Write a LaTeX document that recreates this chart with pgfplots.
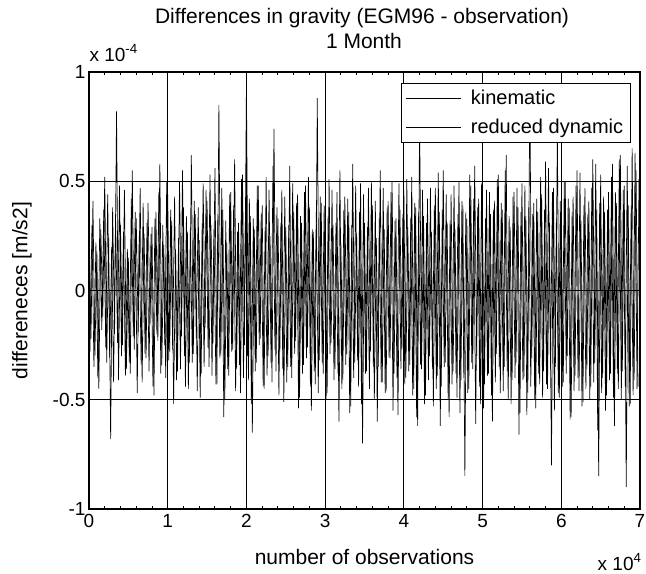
\documentclass[border=0pt]{standalone}
\usepackage{fontspec}
\setmainfont{Liberation Sans}
\usepackage{pgfplots}
\pgfplotsset{compat=1.18}
\newcommand{\ft}{\fontsize{19bp}{22bp}\selectfont}
\newcommand{\fl}{\fontsize{20bp}{23bp}\selectfont}
\newcommand{\fb}{\fontsize{21bp}{24bp}\selectfont}
\begin{document}
\begin{tikzpicture}
\begin{axis}[
 scale only axis, width=551bp, height=437bp,
 xmin=0, xmax=70000, ymin=-1, ymax=1,
 xtick={0,10000,20000,30000,40000,50000,60000,70000},
 xticklabels={0,1,2,3,4,5,6,7},
 ytick={-1,-0.5,0,0.5,1}, yticklabels={-1,-0.5,0,0.5,1},
 scaled x ticks=false, scaled y ticks=false,
 minor x tick num=4,
 tick align=inside,
 major tick length=5bp, minor tick length=3bp,
 grid=major, major grid style={black, line width=1.1bp},
 axis line style={black, line width=1.4bp},
 tick style={black, line width=0.9bp},
 /pgf/number format/assume math mode=true,
 tick label style={font=\ft},
 xticklabel style={yshift=-2bp},
 legend style={at={(0.983,0.975)}, anchor=north east, draw=black, line width=1bp, fill=white, font=\fl, inner xsep=5bp, inner ysep=5bp, row sep=9bp, /tikz/every odd column/.append style={column sep=7bp}},
 legend cell align=left,
 legend image code/.code={\draw[black,line width=0.7bp] (0bp,0bp) -- (55bp,0bp);},
]
\addplot[black, line width=0.65bp] coordinates {
(0,.35)(250,-.22)(500,.41)(750,-.30)(1000,.18)(1250,-.45)(1500,.28)(1750,-.12)(2000,.52)(2250,-.33)
(2500,.24)(2750,-.68)(3000,.38)(3250,-.20)(3500,.82)(3750,-.41)(4000,.30)(4250,-.25)(4500,.46)(4750,-.36)
(5000,.15)(5250,-.38)(5500,.55)(5750,-.27)(6000,.33)(6250,-.19)(6500,.47)(6750,-.42)(7000,.26)(7250,-.31)
(7500,.40)(7750,-.15)(8000,.29)(8250,-.48)(8500,.36)(8750,-.23)(9000,.58)(9250,-.34)(9500,.21)(9750,-.40)
(10000,.44)(10250,-.28)(10500,.32)(10750,-.52)(11000,.19)(11250,-.37)(11500,.50)(11750,-.21)(12000,.38)(12250,-.44)
(12500,.27)(12750,-.33)(13000,.62)(13250,-.29)(13500,.35)(13750,-.46)(14000,.23)(14250,-.38)(14500,.49)(14750,-.17)
(15000,.41)(15250,-.35)(15500,.30)(15750,-.24)(16000,.56)(16250,-.43)(16500,.85)(16750,-.30)(17000,.37)(17250,-.50)
(17500,.22)(17750,-.39)(18000,.45)(18250,-.27)(18500,.60)(18750,-.36)(19000,.31)(19250,-.47)(19500,.53)(19750,-.25)
(20000,.95)(20250,-.41)(20500,.34)(20750,-.65)(21000,.28)(21250,-.33)(21500,.48)(21750,-.22)(22000,.39)(22250,-.45)
(22500,.52)(22750,-.30)(23000,.25)(23250,-.42)(23500,.74)(23750,-.37)(24000,.33)(24250,-.28)(24500,.46)(24750,-.51)
(25000,.29)(25250,-.35)(25500,.57)(25750,-.40)(26000,.36)(26250,-.23)(26500,.44)(26750,-.49)(27000,.31)(27250,-.34)
(27500,.48)(27750,-.26)(28000,.38)(28250,-.55)(28500,.27)(28750,-.43)(29000,.88)(29250,-.32)(29500,.40)(29750,-.38)
(30000,.35)(30250,-.47)(30500,.51)(30750,-.24)(31000,.30)(31250,-.36)(31500,.45)(31750,-.60)(32000,.22)(32250,-.41)
(32500,.43)(32750,-.29)(33000,.36)(33250,-.53)(33500,.58)(33750,-.33)(34000,.26)(34250,-.44)(34500,.49)(34750,-.70)
(35000,.31)(35250,-.37)(35500,.47)(35750,-.28)(36000,.39)(36250,-.50)(36500,.24)(36750,-.35)(37000,.55)(37250,-.42)
(37500,.28)(37750,-.46)(38000,.41)(38250,-.31)(38500,.50)(38750,-.38)(39000,.33)(39250,-.57)(39500,.37)(39750,-.27)
(40000,.46)(40250,-.40)(40500,.29)(40750,-.34)(41000,.52)(41250,-.45)(41500,.38)(41750,-.62)(42000,.80)(42250,-.36)
(42500,.34)(42750,-.48)(43000,.42)(43250,-.30)(43500,.27)(43750,-.53)(44000,.47)(44250,-.39)(44500,.36)(44750,-.44)
(45000,.55)(45250,-.33)(45500,.31)(45750,-.58)(46000,.44)(46250,-.37)(46500,.28)(46750,-.49)(47000,.50)(47250,-.41)
(47500,.39)(47750,-.85)(48000,.33)(48250,-.45)(48500,.48)(48750,-.36)(49000,.57)(49250,-.30)(49500,.42)(49750,-.52)
(50000,.30)(50250,-.43)(50500,.46)(50750,-.38)(51000,.35)(51250,-.60)(51500,.41)(51750,-.29)(52000,.53)(52250,-.47)
(52500,.37)(52750,-.35)(53000,.62)(53250,-.50)(53500,.29)(53750,-.41)(54000,.45)(54250,-.33)(54500,.38)(54750,-.56)
(55000,.49)(55250,-.40)(55500,.34)(55750,-.47)(56000,.93)(56250,-.31)(56500,.40)(56750,-.54)(57000,.36)(57250,-.43)
(57500,.44)(57750,-.37)(58000,.59)(58250,-.45)(58500,.31)(58750,-.80)(59000,.47)(59250,-.35)(59500,.72)(59750,-.49)
(60000,.35)(60250,-.42)(60500,.50)(60750,-.30)(61000,.38)(61250,-.58)(61500,.43)(61750,-.39)(62000,.55)(62250,-.46)
(62500,.32)(62750,-.51)(63000,.47)(63250,-.36)(63500,.41)(63750,-.44)(64000,.60)(64250,-.33)(64500,.37)(64750,-.85)
(65000,.53)(65250,-.40)(65500,.36)(65750,-.48)(66000,.45)(66250,-.38)(66500,.58)(66750,-.62)(67000,.40)(67250,-.45)
(67500,.62)(67750,-.37)(68000,.48)(68250,-.90)(68500,.39)(68750,-.52)(69000,.65)(69250,-.41)(69500,.55)(69750,-.44)
};
\addlegendentry{kinematic}
\addplot[black, line width=0.65bp] coordinates {
(125,-.28)(375,.30)(625,-.35)(875,.22)(1125,-.40)(1375,.33)(1625,-.18)(1875,.37)(2125,-.26)(2375,.44)
(2625,-.31)(2875,.20)(3125,-.42)(3375,.35)(3625,-.24)(3875,.48)(4125,-.30)(4375,.27)(4625,-.39)(4875,.19)
(5125,-.33)(5375,.42)(5625,-.21)(5875,.36)(6125,-.47)(6375,.25)(6625,-.34)(6875,.40)(7125,-.29)(7375,.31)
(7625,-.37)(7875,.26)(8125,-.44)(8375,.33)(8625,-.20)(8875,.45)(9125,-.38)(9375,.30)(9625,-.25)(9875,.50)
(10125,-.32)(10375,.37)(10625,-.27)(10875,.43)(11125,-.41)(11375,.24)(11625,-.36)(11875,.55)(12125,-.30)(12375,.34)
(12625,-.45)(12875,.29)(13125,-.33)(13375,.41)(13625,-.22)(13875,.38)(14125,-.49)(14375,.31)(14625,-.35)(14875,.46)
(15125,-.26)(15375,.53)(15625,-.39)(15875,.28)(16125,-.43)(16375,.35)(16625,-.31)(16875,.47)(17125,-.58)(17375,.32)
(17625,-.36)(17875,.44)(18125,-.28)(18375,.39)(18625,-.46)(18875,.27)(19125,-.34)(19375,.51)(19625,-.40)(19875,.36)
(20125,-.30)(20375,.42)(20625,-.52)(20875,.33)(21125,-.37)(21375,.48)(21625,-.25)(21875,.35)(22125,-.44)(22375,.29)
(22625,-.39)(22875,.46)(23125,-.33)(23375,.57)(23625,-.27)(23875,.38)(24125,-.48)(24375,.31)(24625,-.36)(24875,.43)
(25125,-.42)(25375,.30)(25625,-.35)(25875,.49)(26125,-.29)(26375,.40)(26625,-.54)(26875,.34)(27125,-.38)(27375,.45)
(27625,-.31)(27875,.52)(28125,-.44)(28375,.28)(28625,-.37)(28875,.36)(29125,-.47)(29375,.43)(29625,-.33)(29875,.39)
(30125,-.50)(30375,.34)(30625,-.29)(30875,.46)(31125,-.41)(31375,.31)(31625,-.38)(31875,.55)(32125,-.45)(32375,.37)
(32625,-.34)(32875,.42)(33125,-.56)(33375,.30)(33625,-.40)(33875,.48)(34125,-.32)(34375,.36)(34625,-.52)(34875,.44)
(35125,-.38)(35375,.29)(35625,-.45)(35875,.50)(36125,-.35)(36375,.41)(36625,-.60)(36875,.33)(37125,-.42)(37375,.47)
(37625,-.47)(37875,.38)(38125,-.31)(38375,.45)(38625,-.55)(38875,.32)(39125,-.40)(39375,.49)(39625,-.36)(39875,.35)
(40125,-.43)(40375,.51)(40625,-.37)(40875,.33)(41125,-.48)(41375,.40)(41625,-.58)(41875,.36)(42125,-.34)(42375,.46)
(42625,-.52)(42875,.31)(43125,-.41)(43375,.47)(43625,-.36)(43875,.39)(44125,-.45)(44375,.54)(44625,-.62)(44875,.37)
(45125,-.35)(45375,.44)(45625,-.50)(45875,.32)(46125,-.43)(46375,.48)(46625,-.38)(46875,.35)(47125,-.56)(47375,.41)
(47625,-.40)(47875,.36)(48125,-.47)(48375,.53)(48625,-.33)(48875,.42)(49125,-.61)(49375,.38)(49625,-.44)(49875,.49)
(50125,-.54)(50375,.33)(50625,-.39)(50875,.45)(51125,-.48)(51375,.37)(51625,-.42)(51875,.51)(52125,-.35)(52375,.40)
(52625,-.46)(52875,.55)(53125,-.37)(53375,.34)(53625,-.52)(53875,.43)(54125,-.40)(54375,.47)(54625,-.66)(54875,.36)
(55125,-.41)(55375,.48)(55625,-.57)(55875,.38)(56125,-.44)(56375,.35)(56625,-.50)(56875,.42)(57125,-.38)(57375,.52)
(57625,-.49)(57875,.37)(58125,-.43)(58375,.56)(58625,-.36)(58875,.45)(59125,-.55)(59375,.33)(59625,-.47)(59875,.41)
(60125,-.44)(60375,.50)(60625,-.38)(60875,.42)(61125,-.59)(61375,.36)(61625,-.46)(61875,.48)(62125,-.40)(62375,.54)
(62625,-.53)(62875,.39)(63125,-.45)(63375,.35)(63625,-.50)(63875,.47)(64125,-.42)(64375,.58)(64625,-.64)(64875,.40)
(65125,-.47)(65375,.43)(65625,-.55)(65875,.37)(66125,-.41)(66375,.52)(66625,-.49)(66875,.45)(67125,-.38)(67375,.60)
(67625,-.50)(67875,.46)(68125,-.44)(68375,.57)(68625,-.53)(68875,.39)(69125,-.48)(69375,.63)(69625,-.45)(69875,.51)
};
\addlegendentry{reduced dynamic}
\end{axis}
\node[font=\fb] at ([xshift=273bp,yshift=54bp]current axis.north west) {Differences in gravity (EGM96 - observation)};
\node[font=\fb] at ([xshift=275bp,yshift=31bp]current axis.north west) {1 Month};
\node[font=\ft, anchor=west] at ([xshift=-3bp,yshift=19bp]current axis.north west) {x 10\textsuperscript{-4}};
\node[font=\fb] at ([yshift=-48bp]current axis.south) {number of observations};
\node[font=\ft, anchor=east] at ([xshift=5bp,yshift=-53bp]current axis.south east) {x 10\textsuperscript{4}};
\node[font=\fb, rotate=90] at ([xshift=-67bp]current axis.west) {differeneces [m/s2]};
\pgfresetboundingbox
\path ([xshift=-89bp,yshift=-64bp]current axis.south west) rectangle ([xshift=6bp,yshift=72bp]current axis.north east);
\end{tikzpicture}
\end{document}
